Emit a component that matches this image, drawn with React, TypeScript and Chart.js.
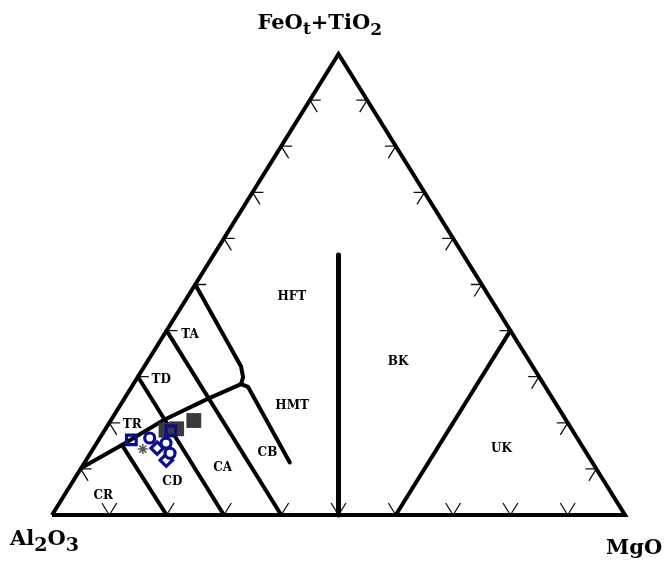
import React, { useEffect, useRef } from 'react';
import { Chart, registerables } from 'chart.js';

Chart.register(...registerables);

// Compositions as [Al2O3, FeOt+TiO2, MgO] (cation %)
const blueSquares: number[][] = [[78.0, 16.3, 5.7], [70.1, 18.3, 11.6]];
const blueCircles: number[][] = [[74.6, 16.7, 8.7], [72.3, 15.6, 12.1], [72.7, 13.4, 13.9]];
const blueDiamonds: number[][] = [[74.4, 14.5, 11.1], [74.1, 11.9, 14.0]];
const grayStars: number[][] = [[77.0, 14.3, 8.7]];
const graySquares: number[][] = [[70.9, 18.4, 10.7], [68.9, 18.7, 12.4], [65.0, 20.5, 14.5]];

// Field boundaries
const outline: number[][] = [[100, 0, 0], [0, 0, 100], [0, 100, 0], [100, 0, 0]];
const thCaLine: number[][] = [[52.8, 28.4, 18.8], [60.0, 25.3, 14.7], [70.2, 20.6, 9.2], [80.2, 15.2, 4.6], [89.8, 10.2, 0]];
const hftLine: number[][] = [[50, 50, 0], [50.9, 32.2, 16.9], [51.7, 29.9, 18.4], [52.8, 28.4, 18.8]];
const hmtLine: number[][] = [[52.8, 28.4, 18.8], [51.9, 27.8, 20.3], [52.8, 11.4, 35.8]];
const taLine: number[][] = [[60, 40, 0], [60, 0, 40]];
const tdLine: number[][] = [[70, 30, 0], [70, 0, 30]];
const crLine: number[][] = [[80.2, 15.2, 4.6], [80, 0, 20]];
const bkLine: number[][] = [[50, 0, 50], [21.8, 56.4, 21.8]];
const ukLine: number[][] = [[40, 0, 60], [0, 40, 60]];

const fieldNames: string[] = ['HFT', 'HMT', 'BK', 'UK', 'TA', 'TD', 'TR', 'CB', 'CA', 'CD', 'CR'];
const fieldAt: number[][] = [
  [34.5, 47.3, 18.2], [46.3, 23.6, 30.1], [23.0, 33.2, 43.8], [14.4, 14.3, 71.3],
  [56.4, 39.0, 4.6], [66.3, 29.3, 4.4], [76.2, 19.6, 4.2], [55.7, 13.4, 30.9],
  [65.1, 10.2, 24.7], [75.4, 7.2, 17.4], [89.0, 4.1, 6.9],
];

const tickSteps: number[] = [10, 20, 30, 40, 50, 60, 70, 80, 90];

const toXY = (c: number[]) => ({ x: c[2] + c[1] / 2, y: c[1] });

const BLUE = '#0b0b8e';
const GRAY = '#3a3a3a';

const lineSet = (data: number[][], width = 4) => ({
  type: 'scatter' as const,
  data: data.map(toXY),
  showLine: true,
  borderColor: '#000',
  borderWidth: width,
  pointRadius: 0,
  borderCapStyle: 'round' as const,
  borderJoinStyle: 'round' as const,
  clip: false as any,
});

const ternaryPlugin = {
  id: 'ternaryDecor',
  beforeDatasetsDraw(chart: any) {
    const { ctx, scales } = chart;
    const px = (c: number[]) => {
      const p = toXY(c);
      return [scales.x.getPixelForValue(p.x), scales.y.getPixelForValue(p.y)];
    };
    const seg = (a: number[], b: number[]) => {
      const [x1, y1] = px(a);
      const [x2, y2] = px(b);
      ctx.moveTo(x1, y1);
      ctx.lineTo(x2, y2);
    };
    ctx.save();
    ctx.strokeStyle = '#111';
    ctx.lineWidth = 1.3;
    ctx.beginPath();
    const dh = 1.9;
    const dd = 2.6;
    const db = 2.6;
    tickSteps.forEach((f) => {
      // left side (Mg = 0)
      seg([100 - f, f, 0], [100 - f - dh, f, dh]);
      seg([100 - f, f, 0], [100 - f, f - dd, dd]);
      // right side (Al = 0)
      seg([0, f, 100 - f], [dh, f, 100 - f - dh]);
      seg([0, f, 100 - f], [dd, f - dd, 100 - f]);
      // base (Fe = 0), at Mg = f
      seg([100 - f, 0, f], [100 - f, db, f - db]);
      seg([100 - f, 0, f], [100 - f - db, db, f]);
    });
    ctx.stroke();
    ctx.restore();
  },
  afterDatasetsDraw(chart: any) {
    const { ctx, scales } = chart;
    const px = (c: number[]) => {
      const p = toXY(c);
      return [scales.x.getPixelForValue(p.x), scales.y.getPixelForValue(p.y)];
    };
    ctx.save();
    ctx.fillStyle = '#000';
    ctx.textAlign = 'center';
    ctx.textBaseline = 'middle';
    ctx.font = 'bold 12px "DejaVu Serif"';
    fieldNames.forEach((name, i) => {
      const [x, y] = px(fieldAt[i]);
      ctx.fillText(name, x, y);
    });

    const drawPieces = (pieces: [string, number, number][], x0: number, base: number) => {
      ctx.textAlign = 'left';
      ctx.textBaseline = 'alphabetic';
      let x = x0;
      pieces.forEach(([t, size, dy]) => {
        ctx.font = `bold ${size}px "DejaVu Serif"`;
        ctx.fillText(t, x, base + dy);
        x += ctx.measureText(t).width;
      });
    };
    const [ax, ay] = px([0, 100, 0]);
    const [lx, ly] = px([100, 0, 0]);
    const [rx, ry] = px([0, 0, 100]);
    drawPieces([['FeO', 21, 0], ['t', 17, 5], ['+TiO', 21, 0], ['2', 17, 6]], ax - 81, ay - 25);
    drawPieces([['Al', 21, 0], ['2', 19, 6], ['O', 21, 0], ['3', 19, 6]], lx - 42, ly + 30);
    drawPieces([['MgO', 21, 0]], rx - 19, ry + 39);
    ctx.restore();
  },
};

export default function App() {
  const ref = useRef<HTMLCanvasElement | null>(null);
  useEffect(() => {
    if (!ref.current) return;
    const pts = (data: number[][]) => data.map(toXY);
    const chart = new Chart(ref.current, {
      type: 'scatter',
      data: {
        datasets: [
          {
            data: pts(blueSquares), pointStyle: 'rect', pointRadius: 6.8, borderColor: BLUE,
            backgroundColor: 'rgba(0,0,0,0)', borderWidth: 3.2, clip: false as any,
          },
          {
            data: pts(blueCircles), pointStyle: 'circle', pointRadius: 5, borderColor: BLUE,
            backgroundColor: '#fff', borderWidth: 3.2, clip: false as any,
          },
          {
            data: pts(blueDiamonds), pointStyle: 'rectRot', pointRadius: 6.2, borderColor: BLUE,
            backgroundColor: '#fff', borderWidth: 3.2, clip: false as any,
          },
          {
            data: pts(grayStars), pointStyle: 'star', pointRadius: 5, borderColor: '#555',
            backgroundColor: '#555', borderWidth: 1.5, clip: false as any,
          },
          {
            data: pts(graySquares), pointStyle: 'rect', pointRadius: 10.5, borderColor: GRAY,
            backgroundColor: GRAY, borderWidth: 0, clip: false as any,
          },
          lineSet(thCaLine),
          lineSet(hftLine),
          lineSet(hmtLine),
          lineSet(taLine),
          lineSet(tdLine),
          lineSet(crLine),
          lineSet(bkLine, 5),
          lineSet(ukLine),
          { ...lineSet(outline), borderJoinStyle: 'miter' as const, borderCapStyle: 'butt' as const },
        ] as any,
      },
      options: {
        responsive: false,
        animation: false,
        devicePixelRatio: 1,
        layout: { padding: { left: 52, right: 43, top: 54, bottom: 47 } },
        scales: {
          x: { type: 'linear', min: 0, max: 100, display: false },
          y: { type: 'linear', min: 0, max: 100, display: false },
        },
        plugins: { legend: { display: false }, tooltip: { enabled: false } },
      },
      plugins: [ternaryPlugin],
    });
    return () => chart.destroy();
  }, []);
  return (
    <div style={{ position: 'absolute', left: 0, top: 0, width: 668, height: 562, background: '#fff' }}>
      <canvas ref={ref} width={668} height={562} style={{ display: 'block' }} />
    </div>
  );
}
